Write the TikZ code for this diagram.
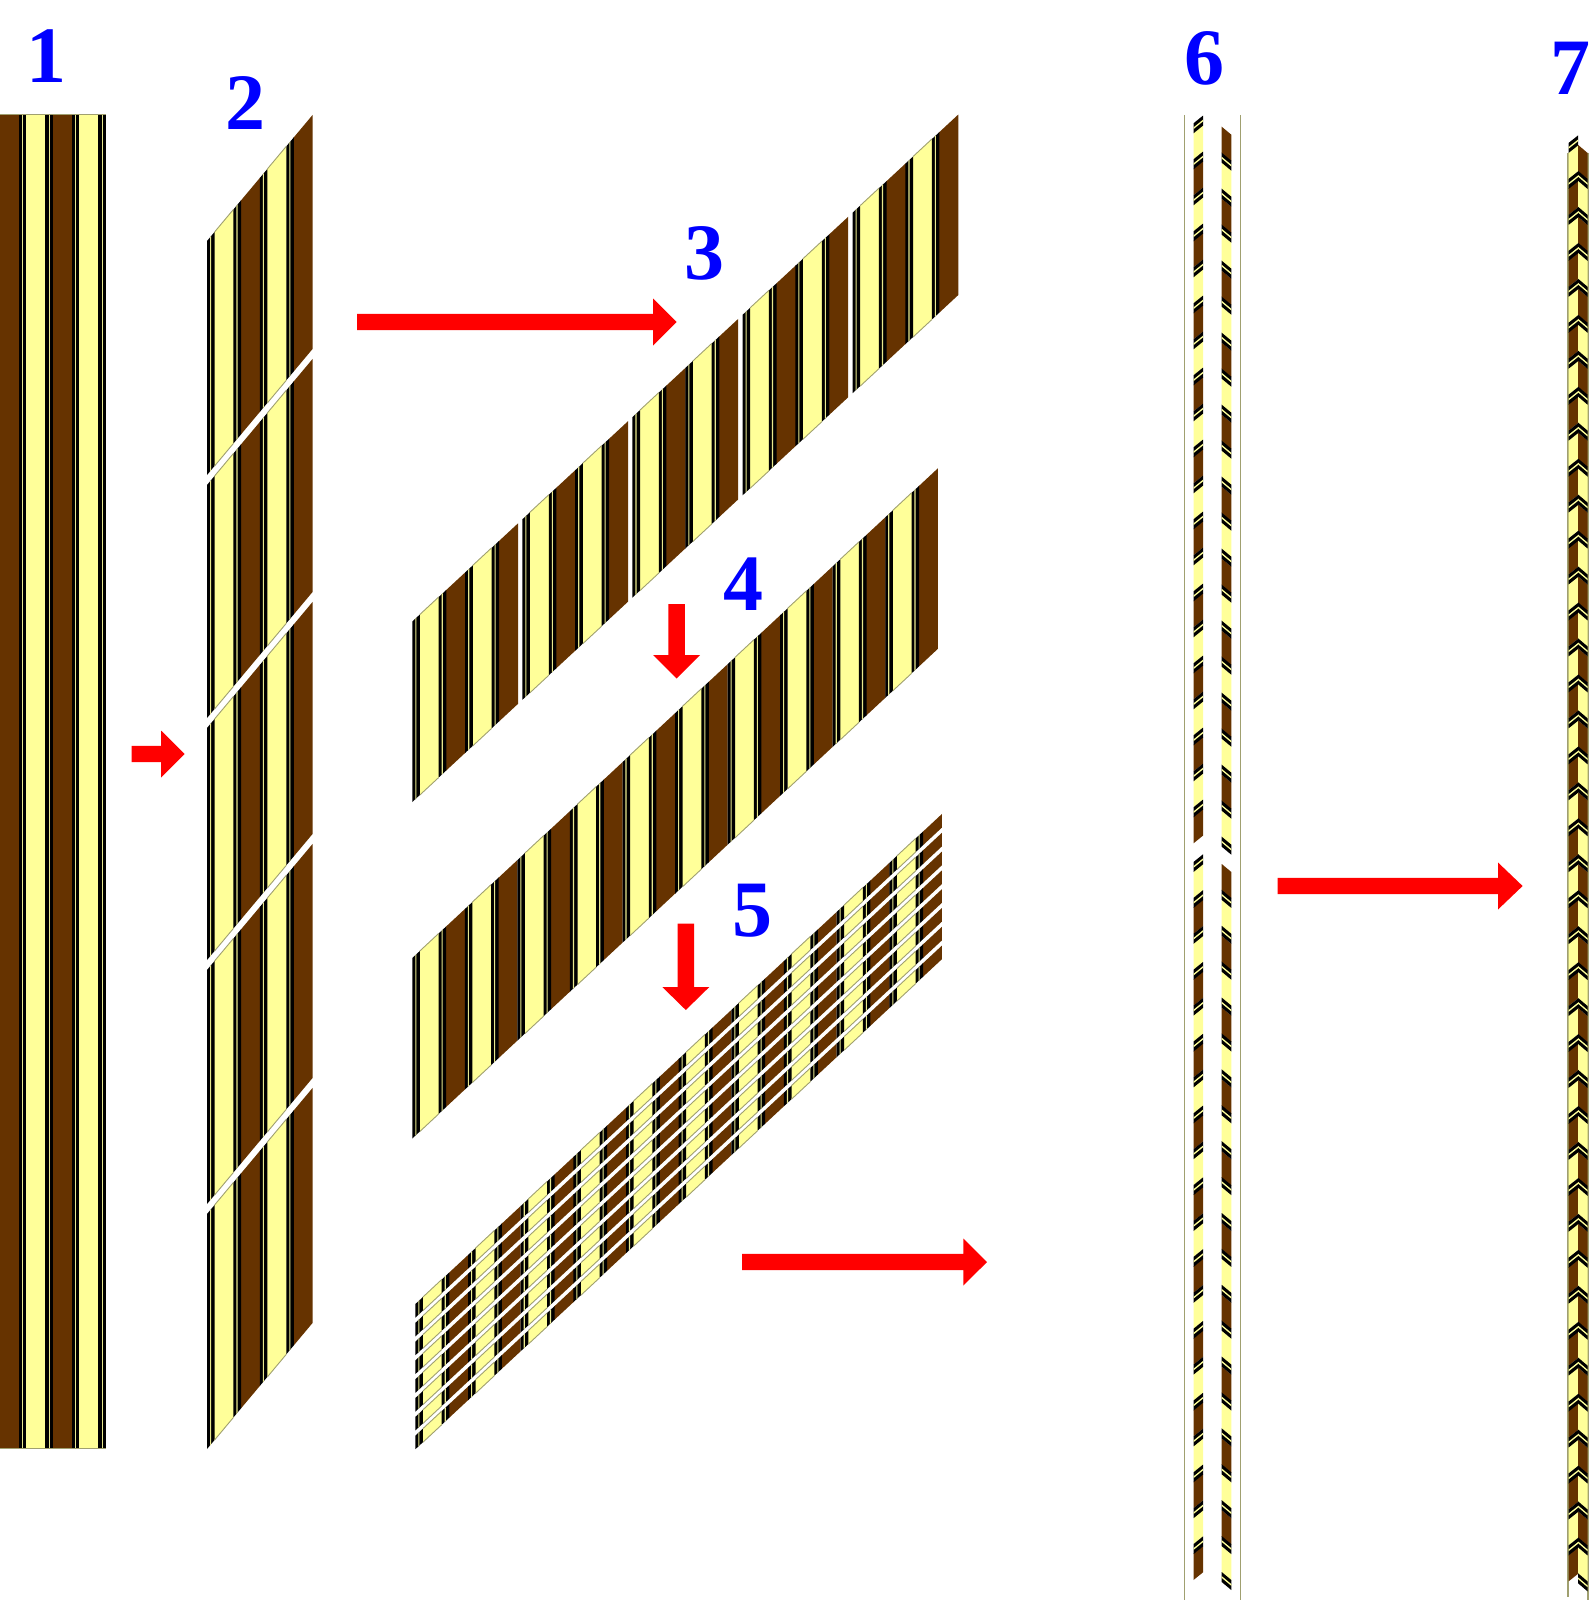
\documentclass[tikz,border=0pt]{standalone}
\usepackage{fontspec}
\setmainfont{Liberation Serif}
\definecolor{yy}{HTML}{FFFF99}
\definecolor{bb}{HTML}{663300}
\definecolor{kk}{HTML}{000000}
\definecolor{ol}{HTML}{A0A070}
\definecolor{th}{HTML}{E8E88C}
\definecolor{rr}{HTML}{FF0000}
\definecolor{lb}{HTML}{0000FF}
\tikzset{
  numlabel/.style={text=lb,font=\fontsize{80}{80}\selectfont\bfseries,inner sep=0pt,anchor=center},
  frameline/.style={draw=ol,line width=1.7pt},
  edgeline/.style={draw=ol,line width=0.9pt},
  blockarrow/.style={fill=rr,draw=none}
}
% drawn in this order, so that the black blocks cover the seams
\def\stripes{7/27/yy,33.6/53.3/bb,60/79.7/yy,86.4/105.7/bb,
0/7.6/kk,26.4/34/kk,52.85/60.45/kk,79.25/86.85/kk,
3/4.1/th,29.4/30.5/th,55.85/56.95/th,82.25/83.35/th}
\def\ystripes{7.6/26.4,60.45/79.25}
% \panel{x0}{ytop at x0}{slope}{height}{scale}
\newcommand\panel[5]{%
  \foreach \a/\b/\c in \stripes {
    \fill[\c] ({#1+\a*#5},{#2+#3*\a*#5}) -- ({#1+\b*#5},{#2+#3*\b*#5}) -- ({#1+\b*#5},{#2+#3*\b*#5+#4}) -- ({#1+\a*#5},{#2+#3*\a*#5+#4}) -- cycle;
  }
  \foreach \a/\b in \ystripes {
    \draw[edgeline] ({#1+\a*#5},{#2+#3*\a*#5}) -- ({#1+\b*#5},{#2+#3*\b*#5});
    \draw[edgeline] ({#1+\a*#5},{#2+#3*\a*#5+#4}) -- ({#1+\b*#5},{#2+#3*\b*#5+#4});
  }
}
% \band{xL}{xR}{y1}{y2}{d}{colour}
\newcommand\band[6]{\fill[#6] (#1,{#3}) -- (#2,{#3+#5}) -- (#2,{#4+#5}) -- (#1,{#4}) -- cycle;}
% \zig{xL}{xR}{y0}{d}{half period}{last index}{mode}  mode 0: kyk first; mode 1: colour first
\newcommand\zig[7]{%
  \foreach \i in {0,...,#6} {
    \pgfmathsetmacro\yy{#3+\i*#5}
    \pgfmathtruncatemacro\odd{mod(\i,2)}
    \ifnum#7=0
      \ifnum\odd=0 \def\cc{yy}\else\def\cc{bb}\fi
      \band{#1}{#2}{\yy+9.5}{\yy+#5}{#4}{\cc}
    \else
      \ifnum\odd=0 \def\cc{bb}\else\def\cc{yy}\fi
      \band{#1}{#2}{\yy}{\yy+#5-9.5}{#4}{\cc}
    \fi
  }
  \foreach \i in {0,...,#6} {
    \pgfmathsetmacro\yy{#3+\i*#5}
    \ifnum#7=0
      \band{#1}{#2}{\yy}{\yy+10}{#4}{kk}
      \band{#1}{#2}{\yy+4.1}{\yy+5.8}{#4}{yy}
    \else
      \band{#1}{#2}{\yy+#5-10}{\yy+#5}{#4}{kk}
      \band{#1}{#2}{\yy+#5-5.9}{\yy+#5-4.2}{#4}{yy}
    \fi
  }
}
\newcommand\rarrow[4]{\fill[blockarrow] (#1,#4-8.2) -- (#2,#4-8.2) -- (#2,#4-23.5) -- (#3,#4) -- (#2,#4+23.5) -- (#2,#4+8.2) -- (#1,#4+8.2) -- cycle;}
\newcommand\darrow[4]{\fill[blockarrow] (#4-8.2,#1) -- (#4-8.2,#2) -- (#4-23.5,#2) -- (#4,#3) -- (#4+23.5,#2) -- (#4+8.2,#2) -- (#4+8.2,#1) -- cycle;}
\begin{document}
\begin{tikzpicture}[x=1pt,y=-1pt]
\useasboundingbox (0,0) rectangle (1590,1600);
% 1
\panel{105.7}{114}{0}{1334}{-1}
\draw[edgeline] (0,114) -- (105.7,114);
\draw[edgeline] (0,1448) -- (105.7,1448);
% 2
\def\sb{-1.194}
\panel{207}{241}{\sb}{234}{1}
\panel{207}{485}{\sb}{233}{1}
\panel{207}{728}{\sb}{232}{1}
\panel{207}{970}{\sb}{234}{1}
\panel{207}{1214}{\sb}{235}{1}
% 3
\foreach \k in {0,...,4}{
  \pgfmathsetmacro\xx{412.3+\k*110.07}
  \pgfmathsetmacro\yt{621.5-0.92857*\k*110.07}
  \panel{\xx}{\yt}{-0.92857}{180.5}{1}
}
% 4
\foreach \k in {0,...,4}{
  \pgfmathsetmacro\xx{412.3+\k*105.1}
  \pgfmathsetmacro\yt{958-0.9317*\k*105.1}
  \panel{\xx}{\yt}{-0.9317}{180.5}{0.99433}
}
% 5
\foreach \m in {0,...,7}{
  \foreach \k in {0,...,4}{
    \pgfmathsetmacro\xx{415.4+\k*105.3}
    \pgfmathsetmacro\yt{1304+\m*18.8-0.9307*\k*105.3}
    \panel{\xx}{\yt}{-0.9307}{13.6}{0.99622}
  }
}
% 6
\draw[frameline] (1184.5,115) -- (1184.5,1600);
\draw[frameline] (1240.5,115) -- (1240.5,1600);
\zig{1193.5}{1203}{123.3}{-7.7}{36}{19}{0}
\zig{1193.5}{1203}{862}{-7.7}{35.9}{19}{0}
\zig{1221.7}{1231.3}{126.7}{8}{36}{19}{1}
\zig{1221.7}{1231.3}{864}{8}{35.9}{19}{1}
% 7
\draw[frameline] (1568,153) -- (1568,1597);
\draw[frameline] (1588,153) -- (1588,1600);
\zig{1568.5}{1578.2}{143}{-7.7}{35.96}{39}{0}
\zig{1578.2}{1587.6}{145}{8}{35.96}{39}{1}
% arrows
\rarrow{131.6}{161}{184.7}{754}
\rarrow{357}{653}{676.6}{322}
\darrow{604}{655}{678.6}{676.6}
\darrow{923.5}{987}{1010}{685.8}
\rarrow{742}{963.4}{987}{1262}
\rarrow{1277.7}{1498}{1522.6}{886}
% labels
\node[numlabel] (n1) at (47,56) {1};
\node[numlabel] (n2) at (245,103) {2};
\node[numlabel] (n3) at (704,253) {3};
\node[numlabel] (n4) at (743,584) {4};
\node[numlabel] (n5) at (752,911) {5};
\node[numlabel] (n6) at (1204,58) {6};
\node[numlabel] (n7) at (1570,68) {7};
\end{tikzpicture}
\end{document}
